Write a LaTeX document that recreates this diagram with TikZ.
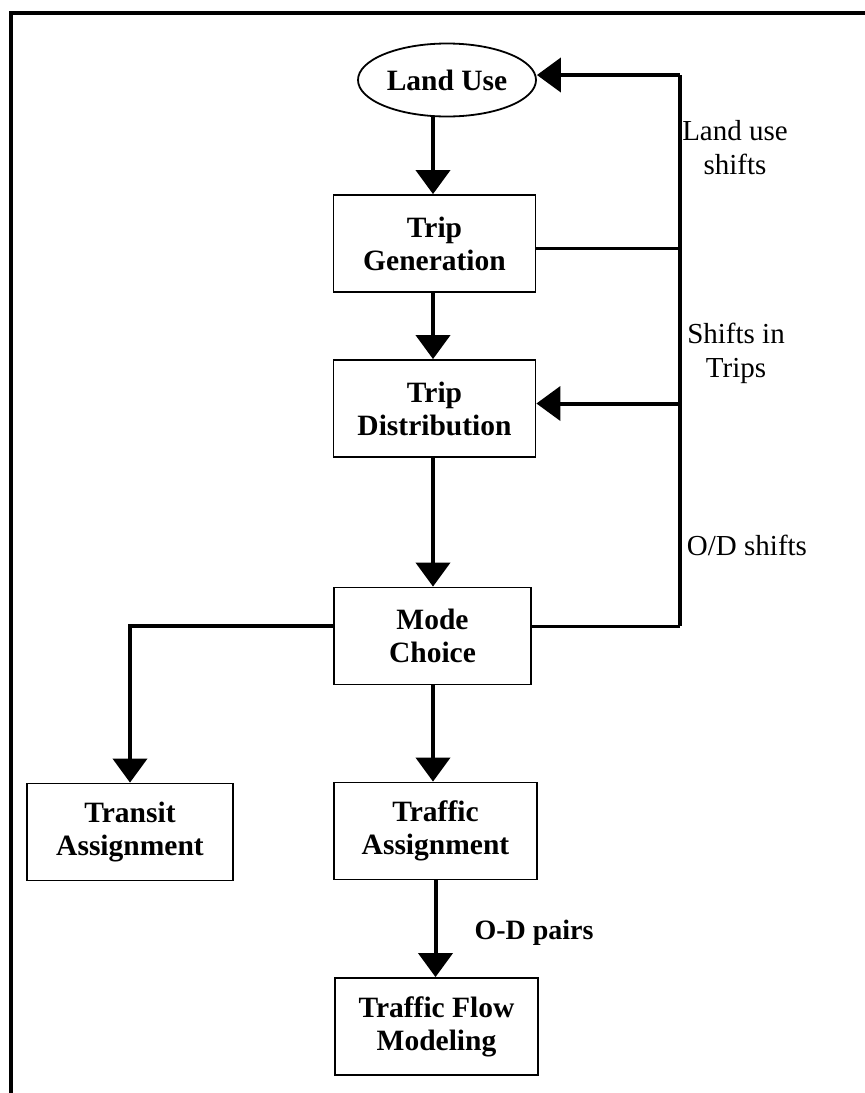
\documentclass[tikz,border=0pt]{standalone}
\usepackage{fontspec}
\setmainfont{Liberation Serif}
\usetikzlibrary{arrows.meta,shapes.geometric}

\begin{document}
\begin{tikzpicture}[x=1pt,y=-1pt,
  stagebox/.style={draw, rectangle, line width=1.8pt, inner sep=0pt,
    minimum width=202pt, minimum height=97pt,
    font=\bfseries\fontsize{29.5}{33}\selectfont, align=center},
  flow/.style={line width=4pt, -{Triangle[width=34pt,length=24pt]}},
  feed/.style={line width=4pt},
  note/.style={font=\fontsize{29}{34}\selectfont, align=center, inner sep=0pt}]

\useasboundingbox (0,0) rectangle (865,1093);

% outer frame (top and left edges)
\draw[line width=4pt] (865,13) -- (11,13) -- (11,1093);

% stages of the model
\node[draw, ellipse, line width=1.8pt, inner sep=0pt, minimum width=178pt,
      minimum height=73pt, font=\bfseries\fontsize{29.5}{33}\selectfont]
      (lu) at (447,80) {Land Use};
\node[stagebox] (tg) at (434.5,243.5) {Trip\\Generation};
\node[stagebox] (td) at (434.5,408.5) {Trip\\Distribution};
\node[stagebox, minimum width=197pt] (mc) at (432.5,636) {Mode\\Choice};
\node[stagebox, minimum width=206pt] (tr) at (130,832) {Transit\\Assignment};
\node[stagebox, minimum width=203pt] (ta) at (435.5,831) {Traffic\\Assignment};
\node[stagebox, minimum width=203pt] (tf) at (436.5,1026.5) {Traffic Flow\\Modeling};

% main chain (vertical stems)
\coordinate (stem) at (433,0);
\draw[flow] (stem |- lu.south) -- (stem |- tg.north);
\draw[flow] (stem |- tg.south) -- (stem |- td.north);
\draw[flow] (stem |- td.south) -- (stem |- mc.north);
\draw[flow] (stem |- mc.south) -- (stem |- ta.north);
\draw[flow] (ta.south) -- (ta.south |- tf.north);
\draw[flow] ([yshift=10pt]mc.west) -| (tr.north);

% feedback loop on the right
\coordinate (fbtop) at (680,75);
\coordinate (fbbot) at (680,626);
\draw[feed] (fbtop) -- (fbbot);
\draw[flow] (fbtop) -- (lu.east |- fbtop);
\draw[line width=3pt] ([yshift=-5pt]tg.east) -- ([yshift=-5pt]tg.east -| fbtop);
\draw[flow] ([yshift=5pt]td.east -| fbtop) -- ([yshift=5pt]td.east);
\draw[line width=3pt] ([yshift=10pt]mc.east) -- ([yshift=10pt]mc.east -| fbbot);

% labels
\node[note] (l1) at (735,148) {Land use\\shifts};
\node[note] (l2) at (736,353) {Shifts in\\Trips};
\node[note] (l3) at (747,545) {O/D shifts};
\node[note, font=\bfseries\fontsize{28}{34}\selectfont] (l4) at (534,933) {O-D pairs};
\end{tikzpicture}
\end{document}
